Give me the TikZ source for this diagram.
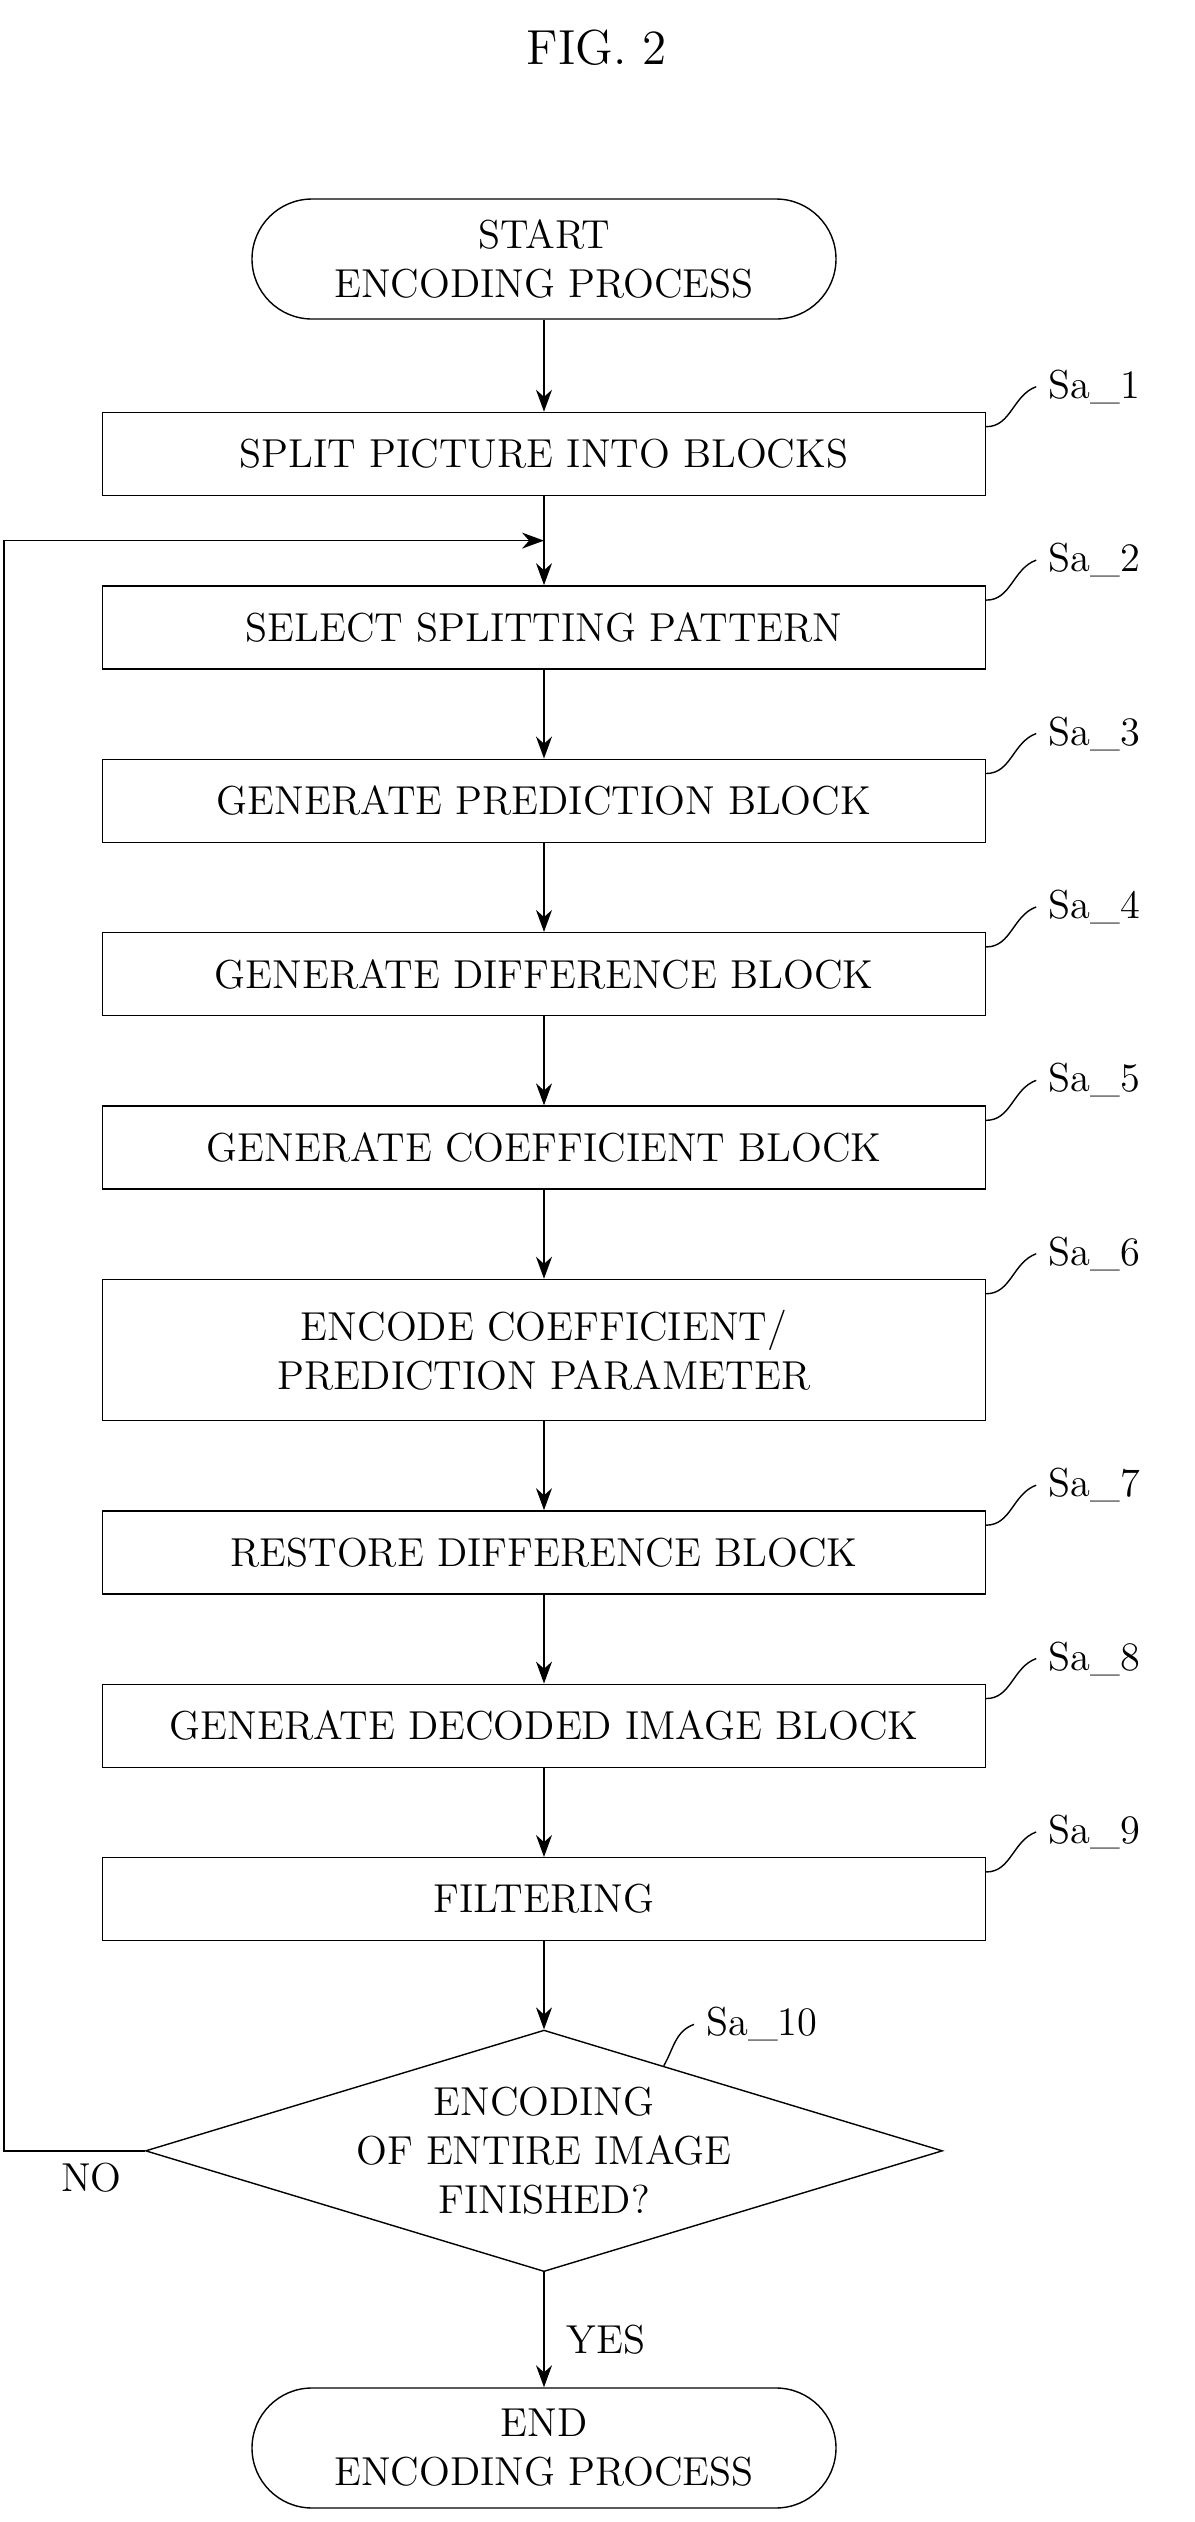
\documentclass[tikz,border=0pt]{standalone}
\usepackage{tikz}
\usetikzlibrary{positioning, arrows.meta, calc, shapes.geometric}

\begin{document}
\begin{tikzpicture}[
    font=\fontsize{11.5}{14}\selectfont,
    stepnode/.style={rectangle, draw=black, minimum width=8.83cm, minimum height=0.83cm, inner sep=1mm, align=center},
    termnode/.style={rounded corners=0.6cm, draw=black, minimum width=5.84cm, minimum height=1.2cm, align=center},
    decnode/.style={diamond, draw=black, minimum width=7.6cm, minimum height=2.27cm, inner sep=0pt, align=center, aspect=3.3},
    flow/.style={-{Stealth[length=2.2mm, width=1.6mm]}, draw=black},
    node distance=0.89cm
]
\useasboundingbox (0,0) rectangle (11.95,-25.22);

\node at (5.97,-0.48) {\fontsize{14}{16}\selectfont FIG. 2};

\node[termnode](start) at (5.44,-2.59){START\\ENCODING PROCESS};
\node[stepnode](s1)[below = 0.92cm of start]{SPLIT PICTURE INTO BLOCKS};
\node[stepnode](s2)[below = of s1]{SELECT SPLITTING PATTERN};
\node[stepnode](s3)[below = of s2]{GENERATE PREDICTION BLOCK};
\node[stepnode](s4)[below = of s3]{GENERATE DIFFERENCE BLOCK};
\node[stepnode](s5)[below = of s4]{GENERATE COEFFICIENT BLOCK};
\node[stepnode, minimum height=1.41cm](s6)[below = of s5]{ENCODE COEFFICIENT/\\PREDICTION PARAMETER};
\node[stepnode](s7)[below = of s6]{RESTORE DIFFERENCE BLOCK};
\node[stepnode](s8)[below = of s7]{GENERATE DECODED IMAGE BLOCK};
\node[stepnode](s9)[below = of s8]{FILTERING};
\node[decnode](s10)[below = 0.88cm of s9]{ENCODING\\OF ENTIRE IMAGE\\FINISHED?};
\node[termnode](stop)[below = 1.15cm of s10]{END\\ENCODING PROCESS};

% main flow
\draw[flow] (start) -- (s1);
\coordinate (back) at ($(s1.south)!0.5!(s2.north)$);
\draw (s1) -- (back);
\foreach \a/\b in {s2/s3, s3/s4, s4/s5, s5/s6, s6/s7, s7/s8, s8/s9, s9/s10}
    \draw[flow] (\a) -- (\b);
\draw[flow] (back) -- (s2);
\draw[flow] (s10) -- node[right, xshift=1mm, yshift=-1mm]{YES} (stop);

% loop back
\draw[flow] (s10.west) -- ++(-1.41,0) node[below right, xshift=0.45cm]{NO} |- (back);

% step labels
\foreach \n/\t in {s1/1, s2/2, s3/3, s4/4, s5/5, s6/6, s7/7, s8/8, s9/9}{
    \node[anchor=west](l\n) at ($(\n.north east)+(0.5,0.25)$){Sa\_\t};
    \draw (\n.north east) ++(0,-0.15) to[out=0, in=200] (l\n.west);
}
\node[anchor=west](ls10) at ($(s10.north)+(1.5,0.05)$){Sa\_10};
\draw ($(s10.north)!0.3!(s10.east)$) to[out=60, in=200] (ls10.west);
\end{tikzpicture}
\end{document}
